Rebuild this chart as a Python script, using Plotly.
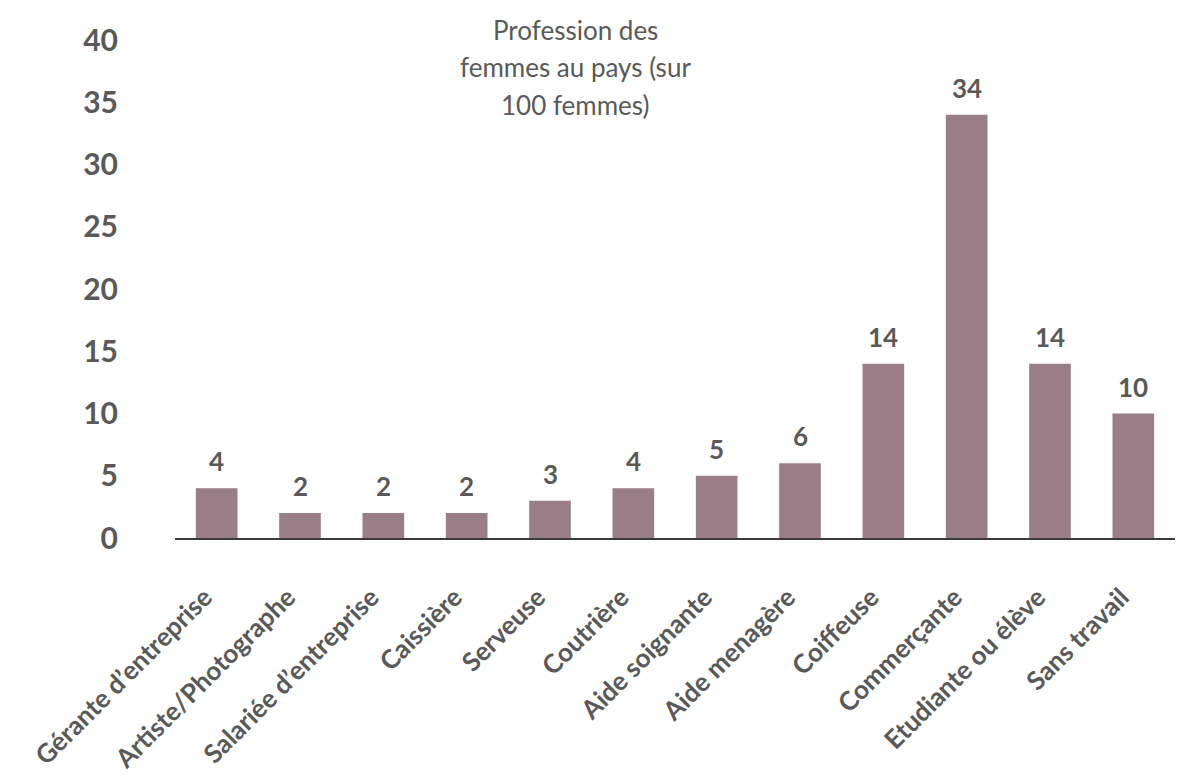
import plotly.graph_objects as go

# Professions des femmes (sur 100 femmes)
categories = [
    "Gérante d’entreprise",
    "Artiste/Photographe",
    "Salariée d’entreprise",
    "Caissière",
    "Serveuse",
    "Coutrière",
    "Aide soignante",
    "Aide menagère",
    "Coiffeuse",
    "Commerçante",
    "Etudiante ou élève",
    "Sans travail",
]
values = [4, 2, 2, 2, 3, 4, 5, 6, 14, 34, 14, 10]
title_lines = ["Profession des", "femmes au pays (sur", "100 femmes)"]

TEXT = "#595959"
BAR = "#9a7e87"
FONT = "Lato"

fig = go.Figure(
    go.Bar(
        x=categories,
        y=values,
        marker=dict(color=BAR, line=dict(width=0)),
        hoverinfo="skip",
    )
)

# Value labels above each bar
for cat, v in zip(categories, values):
    fig.add_annotation(
        x=cat,
        y=v,
        text=str(v),
        showarrow=False,
        xanchor="center",
        yanchor="middle",
        yshift=27,
        font=dict(family=FONT, size=26, color=TEXT, weight="bold"),
    )

fig.update_layout(
    width=1180,
    height=776,
    margin=dict(l=175, r=5, t=40, b=238),
    paper_bgcolor="white",
    plot_bgcolor="white",
    bargap=0.5,
    showlegend=False,
    font=dict(family=FONT, color=TEXT),
    xaxis=dict(
        automargin=False,
        tickangle=-45,
        tickfont=dict(family=FONT, size=26, color=TEXT, weight="bold"),
        showline=True,
        linecolor="#3a3a3a",
        linewidth=1.5,
        showgrid=False,
        ticks="",
        ticklabelstandoff=32,
        ticklabelshift=-12,
    ),
    yaxis=dict(
        automargin=False,
        range=[0, 40],
        tickvals=[0, 5, 10, 15, 20, 25, 30, 35, 40],
        tickfont=dict(family=FONT, size=30, color=TEXT, weight="bold"),
        showgrid=False,
        zeroline=False,
        showline=False,
        ticks="",
        ticklabelstandoff=56,
    ),
)

# Title drawn as three stacked lines inside the plot area
for i, line in enumerate(title_lines):
    fig.add_annotation(
        text=line,
        xref="paper",
        yref="paper",
        x=0.40,
        y=1.02 - i * 0.075,
        xanchor="center",
        yanchor="middle",
        showarrow=False,
        font=dict(family=FONT, size=26, color=TEXT),
    )

fig.write_html("out.html")
